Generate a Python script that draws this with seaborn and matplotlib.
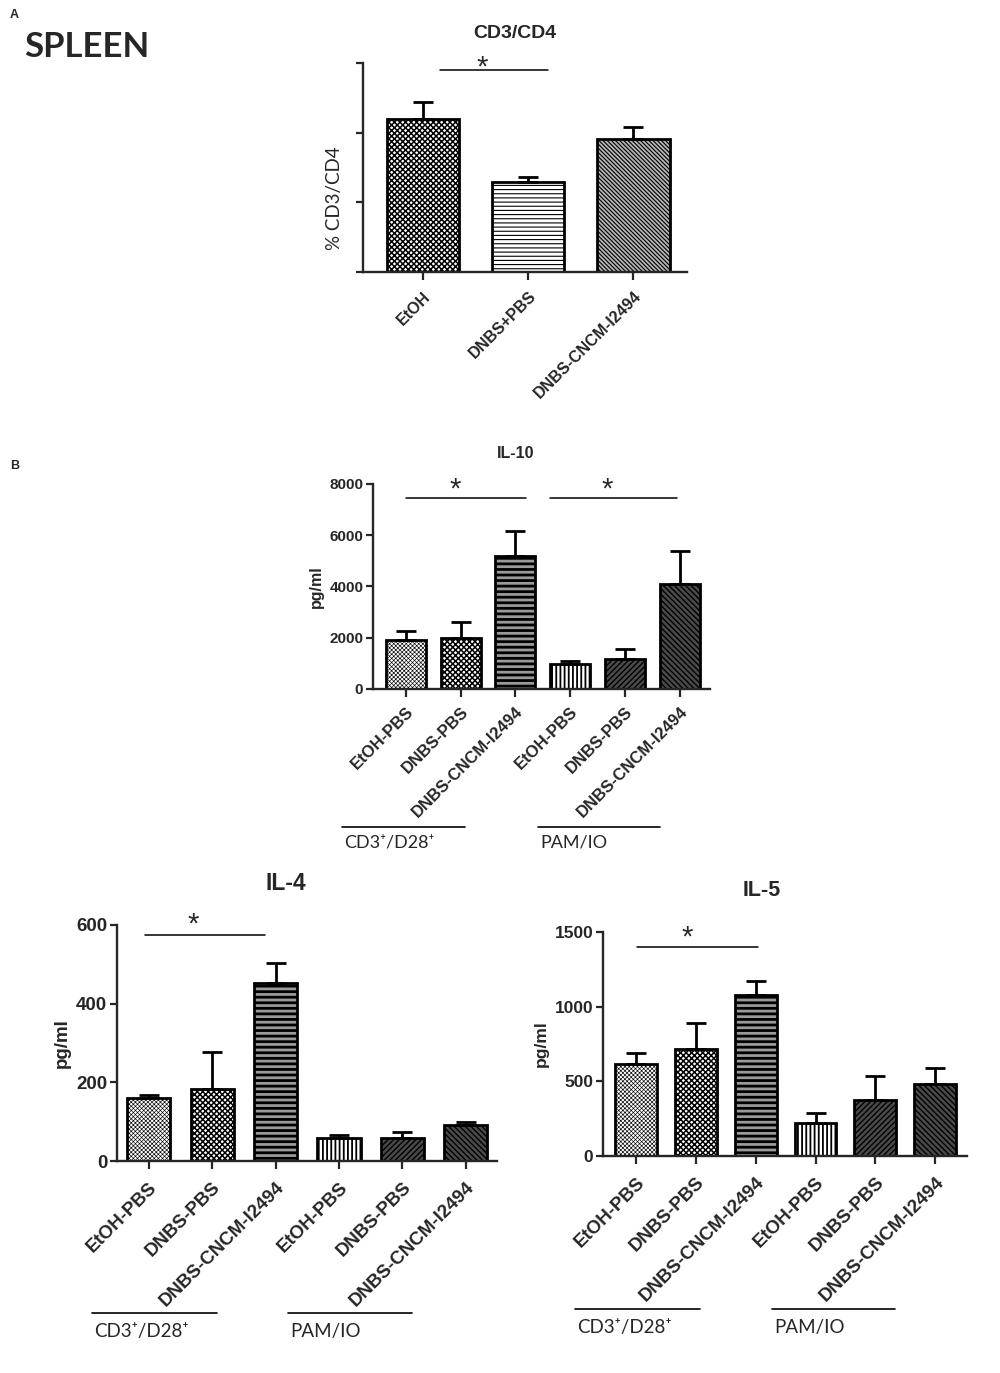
import numpy as np
import pandas as pd
import matplotlib
matplotlib.use("Agg")
import matplotlib.pyplot as plt
from matplotlib.lines import Line2D
import seaborn as sns

# -------------------------
# Data
# -------------------------
cd4_labels = ["EtOH", "DNBS+PBS", "DNBS-CNCM-I2494"]
cd4_mean = [2.20, 1.29, 1.91]
cd4_err = [0.24, 0.07, 0.17]

cyto_labels = ["EtOH-PBS", "DNBS-PBS", "DNBS-CNCM-I2494",
               "EtOH-PBS", "DNBS-PBS", "DNBS-CNCM-I2494"]
stim_groups = ["CD3⁺/D28⁺", "PAM/IO"]

il10_mean = [1900, 1980, 5180, 980, 1180, 4080]
il10_err = [350, 620, 1000, 120, 370, 1320]

il4_mean = [160, 183, 453, 58, 58, 92]
il4_err = [8, 94, 50, 9, 15, 8]

il5_mean = [615, 715, 1075, 220, 375, 480]
il5_err = [75, 175, 100, 65, 160, 110]

# -------------------------
# Style
# -------------------------
sns.set_style("ticks")
plt.rcParams["font.family"] = ["Liberation Sans", "DejaVu Sans"]
plt.rcParams["hatch.linewidth"] = 1.0
plt.rcParams["axes.linewidth"] = 1.7
CAL = ["Lato", "DejaVu Sans"]

W, H = 1000, 1373
fig = plt.figure(figsize=(W / 100, H / 100), dpi=100)

def px_axes(left, right, top, bottom):
    return fig.add_axes([left / W, 1 - bottom / H, (right - left) / W, (bottom - top) / H])

def draw_bars(ax, labels, means, errs, styles, width, xlim, ylim, xfs, yfs, pad):
    keys = [f"{i}_{lab}" for i, lab in enumerate(labels)]
    df = pd.DataFrame({"key": keys, "value": means})
    sns.barplot(data=df, x="key", y="value", order=keys, ax=ax, width=width,
                color="white", edgecolor="black", linewidth=2.0, saturation=1)
    for patch, (fc, hatch, hlw) in zip(ax.patches, styles):
        patch.set_facecolor(fc)
        patch.set_hatch(hatch)
        if hasattr(patch, "set_hatch_linewidth"):
            patch.set_hatch_linewidth(hlw)
    ax.errorbar(range(len(means)), means, yerr=[np.zeros(len(errs)), errs],
                fmt="none", ecolor="black", elinewidth=2.0, capsize=7, capthick=2.0,
                zorder=1)
    ax.set_xlim(*xlim)
    ax.set_ylim(*ylim)
    ax.set_xlabel("")
    ax.set_ylabel("")
    ax.set_xticks(range(len(labels)))
    ax.set_xticklabels(labels, rotation=45, ha="right", rotation_mode="anchor",
                       fontsize=xfs, fontweight="bold")
    ax.tick_params(axis="x", length=6, width=1.6, pad=pad)
    ax.tick_params(axis="y", length=5, width=1.6, labelsize=yfs, pad=2)
    for t in ax.get_yticklabels():
        t.set_fontweight("bold")
    sns.despine(ax=ax)

def sig(ax, x0, x1, y, xs, ys):
    ax.plot([x0, x1], [y, y], color="black", lw=1.1, clip_on=False)
    ax.text(xs, ys, "*", ha="center", va="center", fontsize=21, clip_on=False)

def group_lines(y_line, y_text, spans, fs):
    for (x0, x1), name in zip(spans, stim_groups):
        fig.add_artist(Line2D([x0 / W, x1 / W], [1 - y_line / H] * 2, color="black", lw=1.2))
        fig.text(x0 / W + 0.002, 1 - y_text / H, name, ha="left", va="center",
                 fontsize=fs, family=CAL)

fine = "x" * 8
coarse = "x" * 6
cyto_styles = [("white", fine, 0.45), ("white", coarse, 1.1), ("#9a9a9a", "---", 2.0),
               ("white", "||||", 1.3), ("#4a4a4a", "//////", 1.0),
               ("#4a4a4a", "\\" * 6, 1.0)]

# -------------------------
# Panel A: CD3/CD4
# -------------------------
fig.text(0.01, 1 - 15 / H, "A", fontsize=9, fontweight="bold", va="center")
fig.text(0.024, 1 - 47 / H, "SPLEEN", fontsize=25, fontweight="bold", va="center",
         family=CAL)

axA = px_axes(363, 687, 63, 272)
draw_bars(axA, cd4_labels, cd4_mean, cd4_err,
          [("white", coarse, 1.1), ("white", "----", 0.8), ("#b5b5b5", "\\" * 8, 0.8)],
          0.69, (-0.57, 2.51), (0, 3), 11.5, 10, 6)
axA.set_yticks([0, 1, 2, 3])
axA.set_yticklabels([])
axA.set_ylabel("% CD3/CD4", fontsize=13.5, family=CAL)
axA.yaxis.set_label_coords(-0.062, 0.354)
sig(axA, 0.16, 1.19, 2.9, 0.56, 2.93)
fig.text(515 / W, 1 - 33 / H, "CD3/CD4", ha="center", va="center",
         fontsize=14, fontweight="bold")

# -------------------------
# Panel B: IL-10
# -------------------------
fig.text(0.01, 1 - 466 / H, "B", fontsize=9, fontweight="bold", va="center")
ax10 = px_axes(373, 710, 484, 689)
draw_bars(ax10, cyto_labels, il10_mean, il10_err, cyto_styles,
          0.73, (-0.6, 5.55), (0, 8000), 12, 11, 5)
ax10.set_yticks([0, 2000, 4000, 6000, 8000])
ax10.set_ylabel("pg/ml", fontsize=11.5, fontweight="bold", labelpad=4)
sig(ax10, 0.0, 2.2, 7450, 0.9, 7800)
sig(ax10, 2.63, 4.95, 7450, 3.68, 7800)
fig.text(516 / W, 1 - 453 / H, "IL-10", ha="center", va="center",
         fontsize=11.5, fontweight="bold")
group_lines(827, 843, [(342, 465), (538, 660)], 13)

# -------------------------
# IL-4
# -------------------------
ax4 = px_axes(117, 497, 925, 1161)
draw_bars(ax4, cyto_labels, il4_mean, il4_err, cyto_styles,
          0.68, (-0.5, 5.49), (0, 600), 13.5, 13.5, 7)
ax4.set_yticks([0, 200, 400, 600])
ax4.set_ylabel("pg/ml", fontsize=13.5, fontweight="bold", labelpad=4)
sig(ax4, -0.06, 1.83, 575, 0.7, 600)
fig.text(286 / W, 1 - 883 / H, "IL-4", ha="center", va="center",
         fontsize=16.5, fontweight="bold")
group_lines(1313, 1331, [(92, 217), (288, 412)], 13.5)

# -------------------------
# IL-5
# -------------------------
ax5 = px_axes(603, 967, 932, 1156)
draw_bars(ax5, cyto_labels, il5_mean, il5_err, cyto_styles,
          0.7, (-0.55, 5.53), (0, 1500), 13.5, 12.5, 7)
ax5.set_yticks([0, 500, 1000, 1500])
ax5.set_ylabel("pg/ml", fontsize=12.5, fontweight="bold", labelpad=4)
sig(ax5, 0.02, 2.04, 1400, 0.85, 1460)
fig.text(762 / W, 1 - 890 / H, "IL-5", ha="center", va="center",
         fontsize=15.5, fontweight="bold")
group_lines(1309, 1328, [(575, 700), (772, 895)], 13.5)

fig.savefig("out.png", dpi=100, facecolor="white")
